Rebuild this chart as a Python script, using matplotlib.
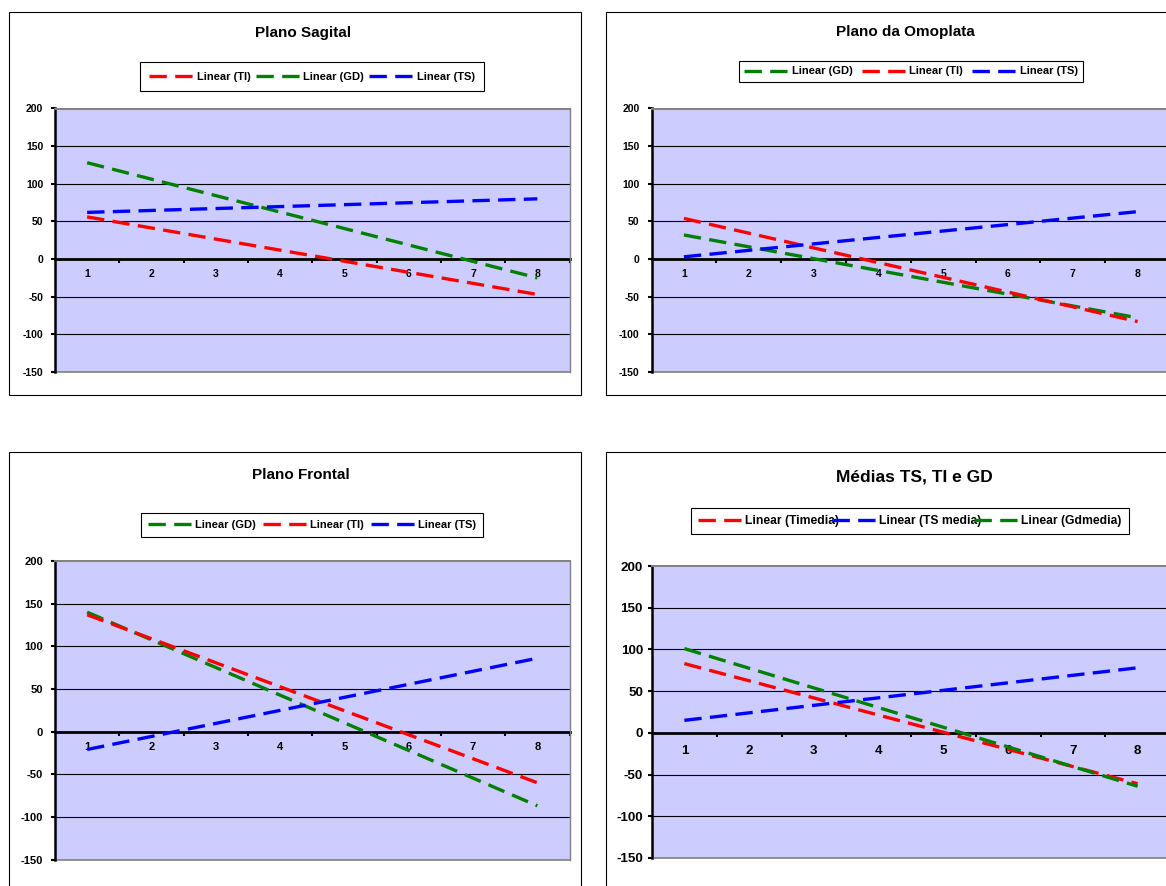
import matplotlib
matplotlib.use("Agg")
import matplotlib.pyplot as plt
from matplotlib.patches import Rectangle

W, H = 1166, 886
plt.rcParams['font.family'] = ['Liberation Sans', 'DejaVu Sans']
plt.rcParams['font.weight'] = 'bold'
plt.rcParams['lines.scale_dashes'] = False

# ---------------- data ----------------
categories = [1, 2, 3, 4, 5, 6, 7, 8]
trend_x = [1, 8]          # linear trendlines: values at first and last category
y_ticks = [-150, -100, -50, 0, 50, 100, 150, 200]
grid_levels = [-100, -50, 50, 100, 150]

sagital_TI = [56, -47]
sagital_GD = [128, -25]
sagital_TS = [62, 80]

omoplata_GD = [32, -78]
omoplata_TI = [54, -83]
omoplata_TS = [3, 63]

frontal_GD = [140, -87]
frontal_TI = [137, -60]
frontal_TS = [-21, 86]

medias_TI = [83, -61]
medias_TS = [15, 78]
medias_GD = [101, -64]

RED, GREEN, BLUE = '#FF0000', '#008000', '#0000FF'
BG = '#CCCCFF'
DASH = (12.5, 6.0)
LW = 2.4

fig = plt.figure(figsize=(W / 100, H / 100), dpi=100)


def fbox(x0, y0, x1, y1):
    return [x0 / W, 1 - y1 / H, (x1 - x0) / W, (y1 - y0) / H]


def panel(border, plot, title, tpos, tsize, series, legpos, legsize,
          ticksize, xpad, ypad, handlelen=4.0, colspace=0.8, borderpad=0.5):
    bx0, by0, bx1, by1 = border
    fig.add_artist(Rectangle((bx0 / W, 1 - by1 / H), (bx1 - bx0) / W, (by1 - by0) / H,
                             transform=fig.transFigure, fill=False,
                             edgecolor='black', linewidth=0.8, zorder=0))
    fig.text(tpos[0] / W, 1 - tpos[1] / H, title, ha='center', va='center',
             fontsize=tsize, fontweight='bold')
    ax = fig.add_axes(fbox(*plot))
    ax.set_facecolor(BG)
    handles = []
    for vals, color, label in series:
        ln, = ax.plot(trend_x, vals, color=color, lw=LW, dashes=DASH,
                      label=label, zorder=3, solid_capstyle='butt',
                      dash_capstyle='butt')
        handles.append(ln)
    ax.set_xlim(0.5, 8.5)
    ax.set_ylim(-150, 200)
    for g in grid_levels:
        ax.axhline(g, color='black', lw=0.8, zorder=1)
    ax.axhline(-150, color='#808080', lw=1.2, zorder=1, clip_on=False)
    ax.spines['top'].set_color('#808080')
    ax.spines['top'].set_linewidth(1.4)
    ax.spines['right'].set_color('#808080')
    ax.spines['right'].set_linewidth(1.0)
    ax.spines['bottom'].set_position(('data', 0))
    ax.spines['bottom'].set_linewidth(2.0)
    ax.spines['bottom'].set_zorder(2)
    ax.spines['left'].set_linewidth(1.8)
    ax.set_xticks(categories)
    ax.set_xticklabels([str(c) for c in categories])
    ax.set_xticks([c + 0.5 for c in categories], minor=True)
    ax.tick_params(axis='x', which='major', length=0, pad=xpad,
                   labelsize=ticksize)
    ax.tick_params(axis='x', which='minor', length=3, width=1.5,
                   direction='out', color='black')
    ax.set_yticks(y_ticks)
    ax.set_yticklabels([str(v) for v in y_ticks])
    ax.tick_params(axis='y', length=3, width=1.5, direction='out',
                   pad=ypad, labelsize=ticksize)
    for lab in ax.get_xticklabels() + ax.get_yticklabels():
        lab.set_fontweight('bold')
    leg = fig.legend(handles=handles, loc='center',
                     bbox_to_anchor=(legpos[0] / W, 1 - legpos[1] / H),
                     ncol=3, frameon=True, fancybox=False, edgecolor='black',
                     framealpha=1, handlelength=handlelen, handletextpad=0.3,
                     columnspacing=colspace, borderpad=borderpad,
                     borderaxespad=0,
                     prop={'size': legsize, 'weight': 'bold'})
    leg.get_frame().set_linewidth(0.8)
    return ax


panel((9, 12, 581, 395), (55, 108.5, 569.5, 372), 'Plano Sagital', (303, 33), 11,
      [(sagital_TI, RED, 'Linear (TI)'), (sagital_GD, GREEN, 'Linear (GD)'),
       (sagital_TS, BLUE, 'Linear (TS)')],
      (312, 76.5), 8, 7.5, 7.0, 5.5, colspace=0.44, borderpad=0.86)

panel((606, 12, 1250, 395), (651.5, 108.5, 1170, 372), 'Plano da Omoplata', (905, 32), 11,
      [(omoplata_GD, GREEN, 'Linear (GD)'), (omoplata_TI, RED, 'Linear (TI)'),
       (omoplata_TS, BLUE, 'Linear (TS)')],
      (911, 71.5), 8, 7.5, 7.0, 5.5, borderpad=0.48)

panel((9, 452, 581, 1000), (55, 561, 569.5, 859.5), 'Plano Frontal', (300.5, 475), 11,
      [(frontal_GD, GREEN, 'Linear (GD)'), (frontal_TI, RED, 'Linear (TI)'),
       (frontal_TS, BLUE, 'Linear (TS)')],
      (312, 525), 8, 8, 7.5, 5.5, colspace=0.58, borderpad=0.62)

panel((606, 452, 1250, 1000), (652, 566, 1170, 858), 'Médias TS, TI e GD', (914, 477), 12.5,
      [(medias_TI, RED, 'Linear (Timedia)'), (medias_TS, BLUE, 'Linear (TS media)'),
       (medias_GD, GREEN, 'Linear (Gdmedia)')],
      (910, 521), 8.7, 9.6, 9, 3.5, handlelen=3.6, colspace=-0.6, borderpad=0.59)

fig.savefig('out.png', dpi=100)
